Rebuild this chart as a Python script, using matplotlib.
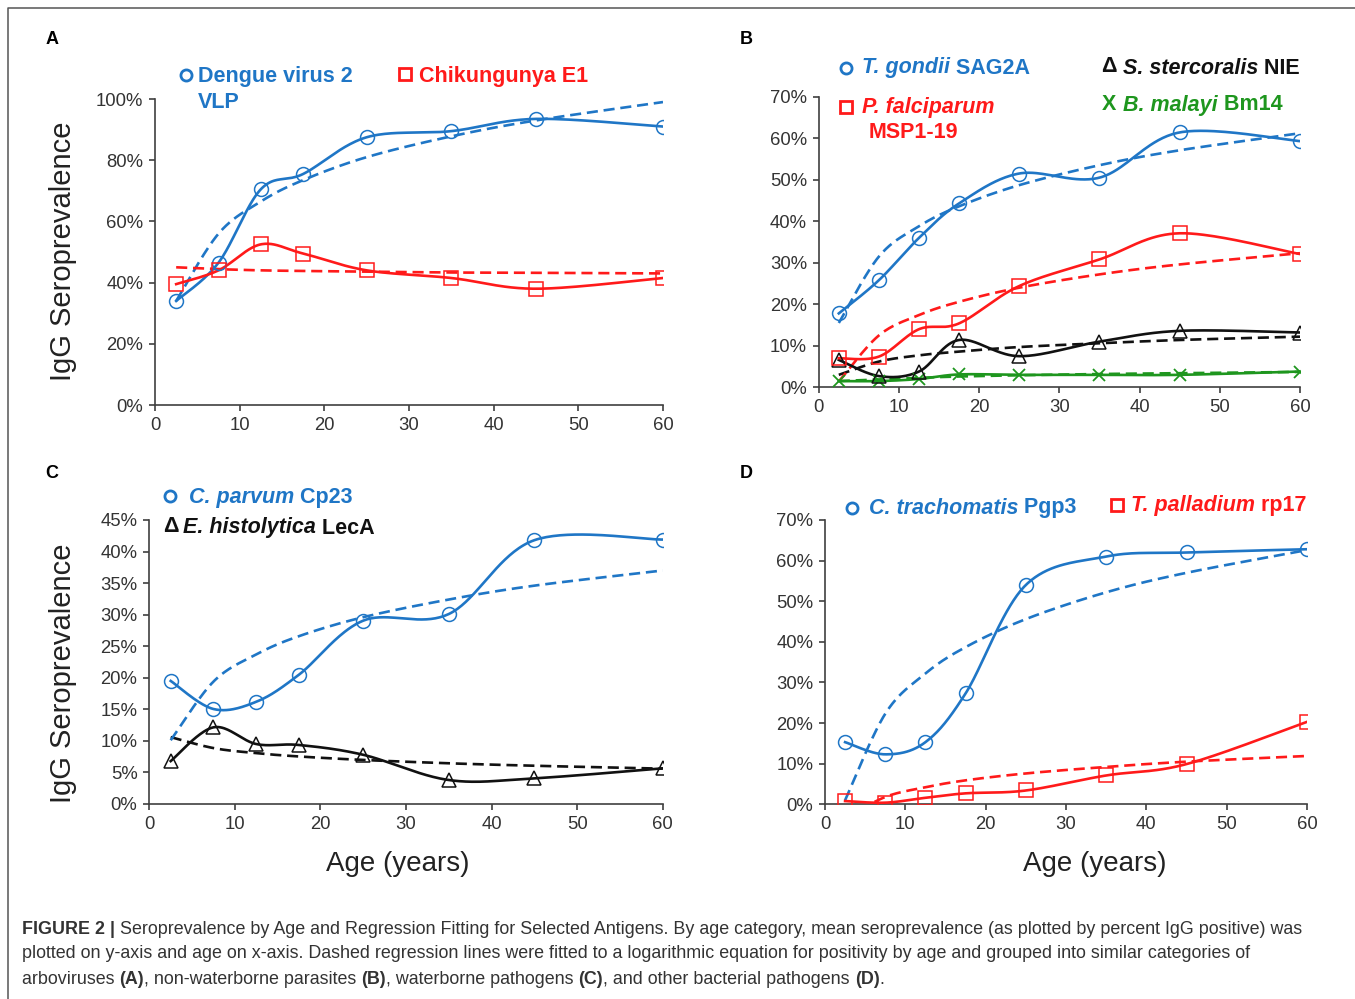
import matplotlib
matplotlib.use("Agg")
import matplotlib.pyplot as plt
from matplotlib.lines import Line2D
import numpy as np

plt.rcParams['font.family'] = ['Liberation Sans', 'DejaVu Sans']

W, H = 1355, 999

# ages of the categories (same in every panel)
ages = [2.5, 7.5, 12.5, 17.5, 25, 35, 45, 60]

# A - arboviruses
dengue = [34, 46.5, 70.5, 75.5, 87.5, 89.5, 93.5, 91]
dengue_fit = [34, 56, 66.5, 73.5, 81, 87.8, 93, 99]
chik = [39.5, 44, 52.5, 49.5, 44, 41.5, 38, 41.5]
chik_fit = [45, 44.4, 44, 43.8, 43.6, 43.3, 43.2, 43]

# B - non-waterborne parasites
tgondii = [17.8, 25.8, 36, 44.3, 51.5, 50.5, 61.4, 59.3]
tgondii_fit = [15.5, 31.5, 38.8, 43.6, 48.7, 53.5, 57.1, 61.2]
pfalc = [7, 7.4, 14, 15.4, 24.4, 30.8, 37.1, 32.1]
pfalc_fit = [1.4, 12.5, 17.4, 20.6, 24, 27.2, 29.6, 32.3]
sster = [6.6, 2.7, 3.8, 11.4, 7.5, 11, 13.6, 13.2]
sster_fit = [3, 6.2, 7.7, 8.6, 9.7, 10.6, 11.4, 12.2]
bmalayi = [1.5, 1.5, 2, 3.1, 3, 3, 3, 3.8]
bmalayi_fit = [1.5, 1.9, 2.3, 2.6, 2.9, 3.2, 3.4, 3.7]

# C - waterborne pathogens
cparvum = [19.5, 15.05, 16.2, 20.5, 29.05, 30.1, 41.8, 41.9]
cparvum_fit = [10.1, 19.4, 23.7, 26.6, 29.6, 32.4, 34.6, 37]
ehist = [6.8, 12.15, 9.5, 9.35, 7.8, 3.8, 4.07, 5.65]
ehist_fit = [10.6, 8.86, 8.06, 7.53, 6.98, 6.45, 6.06, 5.6]

# D - other bacterial pathogens
ctrach = [15.3, 12.3, 15.3, 27.3, 54, 61, 62, 62.8]
ctrach_fit = [1, 22.3, 32.2, 38.7, 45.6, 52.2, 57, 62.6]
tpall = [0.8, 0.4, 1.6, 2.7, 3.4, 7.1, 9.9, 20.3]
tpall_fit = [-3.5, 1.8, 4.2, 5.9, 7.6, 9.2, 10.5, 11.9]

BLUE = '#1f76c6'
RED = '#ff1a1a'
GREEN = '#1e961e'
BLACK = '#111111'
GREY = '#404040'

fig = plt.figure(figsize=(W / 100, H / 100), dpi=100)


def fpos(x, y):
    return x / W, 1 - y / H


def new_ax(x0, x1, y0, y1, ymax, ystep):
    # x0..x1 / y0..y1 are pixel positions of the axis ends
    ax = fig.add_axes([x0 / W, 1 - y0 / H, (x1 - x0) / W, (y0 - y1) / H])
    ax.set_xlim(0, 60)
    ax.set_ylim(0, ymax)
    ax.set_xticks(range(0, 61, 10))
    yt = np.arange(0, ymax + 0.1, ystep)
    ax.set_yticks(yt)
    ax.set_yticklabels(['%d%%' % v for v in yt])
    for s in ['top', 'right']:
        ax.spines[s].set_visible(False)
    for s in ['left', 'bottom']:
        ax.spines[s].set_color(GREY)
        ax.spines[s].set_linewidth(1.2)
    ax.tick_params(direction='out', length=4.5, width=1.2, color=GREY,
                   labelsize=13.3, labelcolor='#333333', pad=4)
    ax.patch.set_alpha(0)
    return ax


def smooth(ax, x, y, n=40):
    # Excel-like smoothed line: Bezier through the points, built in pixel units
    bb = ax.get_position()
    sx = bb.width * W / 60.0
    sy = bb.height * H / ax.get_ylim()[1]
    P = np.column_stack([np.array(x) * sx, np.array(y) * sy])
    k = len(P)
    t = np.linspace(0, 1, n)[:, None]
    out = []
    for i in range(k - 1):
        p0, p1, p2, p3 = P[max(i - 1, 0)], P[i], P[i + 1], P[min(i + 2, k - 1)]
        c1 = p1 + (p2 - p0) / 6.0
        c2 = p2 - (p3 - p1) / 6.0
        seg = (1 - t) ** 3 * p1 + 3 * (1 - t) ** 2 * t * c1 + 3 * (1 - t) * t ** 2 * c2 + t ** 3 * p2
        out.append(seg if i == 0 else seg[1:])
    out = np.vstack(out)
    return out[:, 0] / sx, out[:, 1] / sy


def series(ax, y, yfit, color, marker, ms=10):
    xs, ys = smooth(ax, ages, yfit)
    ax.plot(xs, ys, color=color, lw=1.9, dashes=(4.2, 2.2), zorder=2)
    xs, ys = smooth(ax, ages, y)
    ax.plot(xs, ys, color=color, lw=1.9, zorder=3)
    if marker == 'x':
        ax.plot(ages, y, ls='none', marker='x', ms=ms - 1, mew=1.3, color=color, zorder=4)
    else:
        ax.plot(ages, y, ls='none', marker=marker, ms=ms, mew=1.1, mfc='none',
                mec=color, zorder=4)


renderer = fig.canvas.get_renderer()


def pieces(x, y, parts, size, color, va='center'):
    # write text parts one after another starting at pixel x
    for txt, weight, style in parts:
        t = fig.text(*fpos(x, y), txt, fontsize=size, color=color, fontweight=weight,
                     fontstyle=style, ha='left', va=va)
        x += t.get_window_extent(renderer).width
    return x


def sym(x, y, marker, color, ms=8):
    fig.add_artist(Line2D([x / W], [1 - y / H], marker=marker, ms=ms, mew=2,
                          mfc='none', mec=color, transform=fig.transFigure))


LS = 15.5  # legend font size

# ---- panel A
axA = new_ax(155, 663, 405, 99, 100, 20)
series(axA, dengue, dengue_fit, BLUE, 'o')
series(axA, chik, chik_fit, RED, 's')
sym(186, 75, 'o', BLUE, 8)
pieces(198, 76, [('Dengue virus 2', 'bold', 'normal')], LS, BLUE)
pieces(198, 102, [('VLP', 'bold', 'normal')], LS, BLUE)
sym(405, 74, 's', RED, 8)
pieces(419, 76, [('Chikungunya E1', 'bold', 'normal')], LS, RED)

# ---- panel B
axB = new_ax(818.75, 1300, 387.3, 96.7, 70, 10)
series(axB, bmalayi, bmalayi_fit, GREEN, 'x')
series(axB, sster, sster_fit, BLACK, '^')
series(axB, pfalc, pfalc_fit, RED, 's')
series(axB, tgondii, tgondii_fit, BLUE, 'o')
sym(846, 68, 'o', BLUE, 8)
pieces(862, 68, [('T. gondii', 'bold', 'italic'), (' SAG2A', 'bold', 'normal')], LS, BLUE)
pieces(1101, 67, [('Δ', 'bold', 'normal')], LS, BLACK)
pieces(1123, 68, [('S. stercoralis', 'bold', 'italic'), (' NIE', 'bold', 'normal')], LS, BLACK)
sym(846, 107, 's', RED, 8)
pieces(862, 107, [('P. falciparum', 'bold', 'italic')], LS, RED)
pieces(869, 133, [('MSP1-19', 'bold', 'normal')], LS, RED)
pieces(1102, 104, [('X', 'bold', 'normal')], LS, GREEN)
pieces(1123, 105, [('B. malayi', 'bold', 'italic'), (' Bm14', 'bold', 'normal')], LS, GREEN)

# ---- panel C
axC = new_ax(149.3, 662.7, 804, 520, 45, 5)
series(axC, ehist, ehist_fit, BLACK, '^')
series(axC, cparvum, cparvum_fit, BLUE, 'o')
sym(170, 496, 'o', BLUE, 8)
pieces(189, 497, [('C. parvum', 'bold', 'italic'), (' Cp23', 'bold', 'normal')], LS, BLUE)
pieces(163, 527, [('Δ', 'bold', 'normal')], LS, BLACK)
pieces(183, 528, [('E. histolytica', 'bold', 'italic'), (' LecA', 'bold', 'normal')], LS, BLACK)

# ---- panel D
axD = new_ax(825, 1307, 804.3, 520, 70, 10)
series(axD, tpall, tpall_fit, RED, 's')
series(axD, ctrach, ctrach_fit, BLUE, 'o')
sym(852, 508, 'o', BLUE, 8)
pieces(869, 508, [('C. trachomatis', 'bold', 'italic'), (' Pgp3', 'bold', 'normal')], LS, BLUE)
sym(1117, 505, 's', RED, 8)
pieces(1131, 505, [('T. palladium', 'bold', 'italic'), (' rp17', 'bold', 'normal')], LS, RED)

# panel letters and axis titles
for lab, x, y in [('A', 52, 40), ('B', 746, 40), ('C', 52, 473), ('D', 746, 473)]:
    fig.text(*fpos(x, y), lab, fontsize=13, fontweight='bold', ha='center', va='center')
fig.text(*fpos(63, 251), 'IgG Seroprevalence', fontsize=21, rotation=90,
         ha='center', va='center', color='#222222')
fig.text(*fpos(63, 673), 'IgG Seroprevalence', fontsize=21, rotation=90,
         ha='center', va='center', color='#222222')
fig.text(*fpos(398, 864), 'Age (years)', fontsize=20, ha='center', va='center', color='#222222')
fig.text(*fpos(1095, 864), 'Age (years)', fontsize=20, ha='center', va='center', color='#222222')

# caption
CS = 12.9
CC = '#333333'
pieces(22, 929, [('FIGURE 2 |', 'bold', 'normal'),
                 (' Seroprevalence by Age and Regression Fitting for Selected Antigens. By age category, '
                  'mean seroprevalence (as plotted by percent IgG positive) was', 'normal', 'normal')], CS, CC)
pieces(22, 954, [('plotted on y-axis and age on x-axis. Dashed regression lines were fitted to a logarithmic '
                  'equation for positivity by age and grouped into similar categories of', 'normal', 'normal')], CS, CC)
pieces(22, 979, [('arboviruses ', 'normal', 'normal'), ('(A)', 'bold', 'normal'),
                 (', non-waterborne parasites ', 'normal', 'normal'), ('(B)', 'bold', 'normal'),
                 (', waterborne pathogens ', 'normal', 'normal'), ('(C)', 'bold', 'normal'),
                 (', and other bacterial pathogens ', 'normal', 'normal'), ('(D)', 'bold', 'normal'),
                 ('.', 'normal', 'normal')], CS, CC)

# frame round the figure
fig.add_artist(Line2D([8 / W, 8 / W, 1.0], [0.0, 1 - 8 / H, 1 - 8 / H], color='#555555',
                      lw=1.1, transform=fig.transFigure))

fig.savefig('out.png', dpi=100)
